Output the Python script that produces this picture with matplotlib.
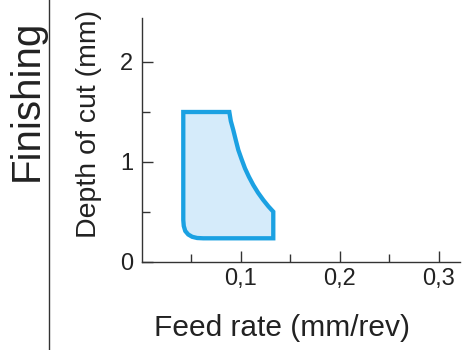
import matplotlib.pyplot as plt

plt.rcParams['font.family'] = ['Liberation Sans', 'DejaVu Sans']

# --- Data: boundary of the finishing area (feed rate, depth of cut) ---
feed = [0.0420, 0.0885, 0.0900, 0.0925, 0.0950, 0.0976, 0.1008, 0.1043,
        0.1083, 0.1127, 0.1175, 0.1228, 0.1280, 0.1329, 0.1329,
        0.0622, 0.0560, 0.0510, 0.0470, 0.0440, 0.0425, 0.0420, 0.0420]
depth = [1.50, 1.50, 1.41, 1.32, 1.22, 1.12, 1.03, 0.937,
         0.852, 0.770, 0.693, 0.620, 0.556, 0.503, 0.237,
         0.237, 0.240, 0.252, 0.275, 0.310, 0.360, 0.420, 1.50]

xticks = [0.1, 0.2, 0.3]
xticklabels = ['0,1', '0,2', '0,3']
yticks = [0, 1, 2]
yticklabels = ['0', '1', '2']

fig = plt.figure(figsize=(4.65, 3.5), dpi=100)
ax = fig.add_axes([141.7 / 465, 88 / 350, 318.3 / 465, 244 / 350])

ax.fill(feed, depth, facecolor='#d5ebfa', edgecolor='#1ba1e2',
        linewidth=3.1, joinstyle='miter')

ax.set_xlim(0, 0.3215)
ax.set_ylim(0, 2.44)

ax.set_xticks(xticks)
ax.set_xticklabels(xticklabels)
ax.set_xticks([0.05, 0.15, 0.25], minor=True)
ax.set_yticks(yticks)
ax.set_yticklabels(yticklabels)
ax.set_yticks([0.5, 1.5], minor=True)

for s in ['top', 'right']:
    ax.spines[s].set_visible(False)
for s in ['left', 'bottom']:
    ax.spines[s].set_linewidth(1.0)
    ax.spines[s].set_color('#333333')

ax.tick_params(which='major', direction='in', length=8, width=1.0,
               color='#333333', labelsize=17, labelcolor='#222222')
ax.tick_params(which='minor', direction='in', length=5.5, width=1.0,
               color='#333333')
ax.tick_params(axis='x', which='major', pad=4)
ax.tick_params(axis='y', which='major', pad=6)

ax.set_xlabel('Feed rate (mm/rev)', fontsize=21.5, color='#222222')
ax.xaxis.set_label_coords(0.442, -0.213)
ax.set_ylabel('Depth of cut (mm)', fontsize=20.5, color='#222222')
ax.yaxis.set_label_coords(-0.125, 0.566)

# side label and separator
fig.text(26.5 / 465, 1 - 100 / 350, 'Finishing', rotation=90, fontsize=29,
         color='#222222', ha='center', va='center')
fig.add_artist(plt.Line2D([48.5 / 465, 48.5 / 465], [0, 1],
                          transform=fig.transFigure, color='#333333', lw=1.0))

fig.savefig('out.png', dpi=100)
